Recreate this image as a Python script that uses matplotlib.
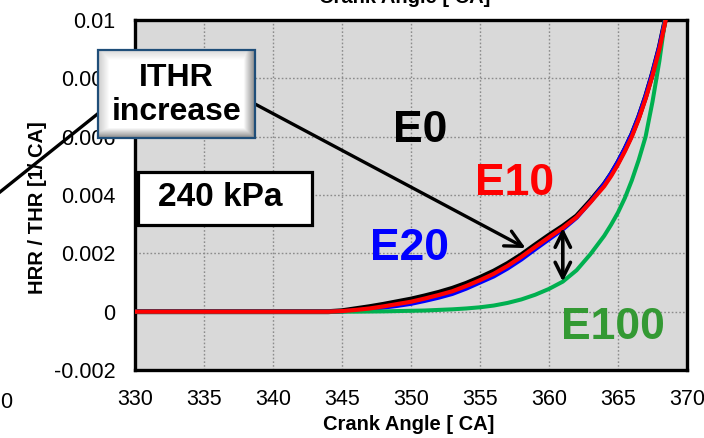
import numpy as np
import matplotlib
matplotlib.use("Agg")
import matplotlib.pyplot as plt
from matplotlib.patches import Rectangle

plt.rcParams['font.family'] = ['Liberation Sans', 'DejaVu Sans']

# Crank angle [deg CA] and normalised heat release rate HRR/THR [1/deg CA]
crank_angle = [330, 335, 340, 344, 345, 346, 347, 348, 349, 350, 351, 352, 353, 354,
               355, 356, 357, 358, 359, 360, 361, 362, 363, 364, 364.5, 365, 365.5,
               366, 366.5, 367, 367.5, 368, 368.5, 369]
hrr_e0 = [0, 0, 0, 0, 0.00003, 0.0001, 0.00017, 0.00025, 0.00034, 0.00043, 0.00054,
          0.00066, 0.0008, 0.00097, 0.00117, 0.00139, 0.00165, 0.00195, 0.00229,
          0.00262, 0.00293, 0.00328, 0.0038, 0.00437, 0.00472, 0.00512, 0.00557,
          0.00607, 0.00667, 0.00737, 0.00817, 0.00907, 0.01017, 0.0114]
hrr_e10 = [0, 0, 0, 0, 0.00002, 0.00006, 0.00011, 0.00018, 0.00026, 0.00034, 0.00045,
           0.00057, 0.0007, 0.00088, 0.00108, 0.0013, 0.00157, 0.00188, 0.00222,
           0.00255, 0.00287, 0.00324, 0.00375, 0.0043, 0.00465, 0.00505, 0.0055,
           0.006, 0.0066, 0.0073, 0.0081, 0.009, 0.0101, 0.0113]
hrr_e20 = [0, 0, 0, 0, 0.00001, 0.00004, 0.00008, 0.00014, 0.0002, 0.00027, 0.00037,
           0.00048, 0.00061, 0.00079, 0.001, 0.00121, 0.00148, 0.00179, 0.00214,
           0.00248, 0.00282, 0.00322, 0.00376, 0.00438, 0.00474, 0.00515, 0.0056,
           0.0061, 0.0067, 0.0074, 0.0082, 0.0091, 0.0102, 0.0115]
hrr_e100 = [0, 0, 0, 0, 0, 0, 0.000005, 0.00001, 0.00002, 0.00003, 0.00004, 0.00006,
            0.00008, 0.00011, 0.00015, 0.00021, 0.0003, 0.00042, 0.00058, 0.00078,
            0.00103, 0.00142, 0.00197, 0.0026, 0.00298, 0.0034, 0.0039, 0.0045,
            0.0052, 0.006, 0.0072, 0.0086, 0.0103, 0.0123]

x_ticks = [330, 335, 340, 345, 350, 355, 360, 365, 370]
y_ticks = [-0.002, 0, 0.002, 0.004, 0.006, 0.008, 0.01]
y_tick_labels = ['-0.002', '0', '0.002', '0.004', '0.006', '0.008', '0.01']

W, H = 704, 438
fig = plt.figure(figsize=(W / 100, H / 100), dpi=100)
fig.patch.set_facecolor('white')

ax = fig.add_axes([135 / W, 1 - 370 / H, 552 / W, 350 / H])
ax.set_facecolor('#d9d9d9')
ax.set_xlim(330, 370)
ax.set_ylim(-0.002, 0.01)
ax.set_xticks(x_ticks)
ax.set_yticks(y_ticks)
ax.set_yticklabels(y_tick_labels)
ax.tick_params(length=0, labelsize=15.5, pad=14, colors='black')
ax.grid(True, color='#8c8c8c', linestyle=(0, (1.2, 1.5)), linewidth=1.0)
ax.set_axisbelow(True)
for sp in ax.spines.values():
    sp.set_linewidth(2.4)
    sp.set_color('black')

x = np.array(crank_angle)
ax.plot(x, hrr_e0, color='black', lw=3.6, zorder=3, solid_capstyle='butt')
ax.plot(x, hrr_e20, color='#0000ff', lw=3.0, zorder=4, solid_capstyle='butt')
ax.plot(x, hrr_e100, color='#00b050', lw=2.9, zorder=4, solid_capstyle='butt')
ax.plot(x, hrr_e10, color='#ff0000', lw=3.0, zorder=5, solid_capstyle='butt')

# Series labels
lab = dict(fontsize=32, fontweight='bold', ha='center', va='center', zorder=6)
ax.text(350.65, 0.0062, 'E0', color='black', **lab)
ax.text(357.5, 0.00438, 'E10', color='#ff0000', **lab)
ax.text(349.9, 0.00215, 'E20', color='#0000ff', **lab)
ax.text(364.6, -0.00053, 'E100', color='#339933', **lab)

# Gap between E10 and E100 at 361 deg CA
gap_ca = 361
top_v = float(np.interp(gap_ca, x, hrr_e10))
bot_v = float(np.interp(gap_ca, x, hrr_e100))
ax.annotate('', xy=(gap_ca, bot_v), xytext=(gap_ca, top_v),
            arrowprops=dict(arrowstyle='<->,head_length=1.1,head_width=0.55',
                            lw=2.6, color='black', shrinkA=0, shrinkB=0),
            zorder=7)

# Overlay in pixel coordinates for callouts
ov = fig.add_axes([0, 0, 1, 1], zorder=10)
ov.set_xlim(0, W)
ov.set_ylim(H, 0)
ov.axis('off')
ov.patch.set_alpha(0)

# Axis titles
fig.text(409 / W, 1 - 425 / H, 'Crank Angle [ CA]', fontsize=14.5, fontweight='bold',
         ha='center', va='center')
fig.text(405 / W, 1 - 3 / H, 'Crank Angle [ CA]', fontsize=14.5, fontweight='bold',
         ha='center', va='baseline')
fig.text(38 / W, 1 - 208 / H, 'HRR / THR [1/ CA]', fontsize=14.5, fontweight='bold',
         ha='center', va='center', rotation=90)
fig.text(12 / W, 1 - 402 / H, '0', fontsize=15.5, ha='right', va='center')

# Callout leader lines
ov.plot([0, 100], [192, 112], color='black', lw=2.4, zorder=1)
ax.annotate('', xy=(358.3, 0.00218), xycoords='data',
            xytext=(255, 104), textcoords=ov.transData,
            arrowprops=dict(arrowstyle='->,head_length=1.2,head_width=0.6',
                            lw=2.4, color='black', shrinkA=0, shrinkB=0),
            annotation_clip=False, zorder=7)

# Bevelled "ITHR increase" box
bx0, bx1, by0, by1 = 98, 255, 50, 138
nx, ny = 160, 90
gx = np.linspace(0, 1, nx)
gy = np.linspace(0, 1, ny)
GX, GY = np.meshgrid(gx, gy)
bev = 0.07
shade = np.ones_like(GX)
shade = np.minimum(shade, 0.80 + 0.20 * np.clip(GX / bev, 0, 1))
shade = np.minimum(shade, 0.55 + 0.45 * np.clip((1 - GX) / bev, 0, 1))
shade = np.minimum(shade, 0.85 + 0.15 * np.clip(GY / (bev * 1.6), 0, 1))
shade = np.minimum(shade, 0.55 + 0.45 * np.clip((1 - GY) / (bev * 1.6), 0, 1))
ov.imshow(shade, cmap='gray', vmin=0, vmax=1, extent=(bx0, bx1, by1, by0),
          aspect='auto', interpolation='bilinear', zorder=3)
ov.add_patch(Rectangle((bx0, by0), bx1 - bx0, by1 - by0, fill=False,
                       edgecolor='#1f4e79', lw=1.6, zorder=4))
ov.text((bx0 + bx1) / 2, 78, 'ITHR', fontsize=23, fontweight='bold',
        ha='center', va='center', zorder=5)
ov.text((bx0 + bx1) / 2, 112, 'increase', fontsize=23, fontweight='bold',
        ha='center', va='center', zorder=5)

# Boost pressure box
ov.add_patch(Rectangle((138, 172), 174, 53, facecolor='white', edgecolor='black',
                       lw=2.3, zorder=4))
ov.text(220, 197, '240 kPa', fontsize=24, fontweight='bold', ha='center',
        va='center', zorder=5)

fig.savefig('out.png', dpi=100)
